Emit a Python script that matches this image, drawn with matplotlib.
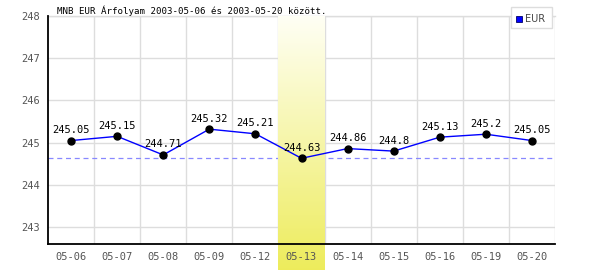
import matplotlib
matplotlib.use("Agg")
import matplotlib.pyplot as plt
import numpy as np
from matplotlib.patches import Rectangle

dates = ["05-06", "05-07", "05-08", "05-09", "05-12", "05-13", "05-14", "05-15", "05-16", "05-19", "05-20"]
values = [245.05, 245.15, 244.71, 245.32, 245.21, 244.63, 244.86, 244.8, 245.13, 245.2, 245.05]
labels = ["245.05", "245.15", "244.71", "245.32", "245.21", "244.63", "244.86", "244.8", "245.13", "245.2", "245.05"]
yticks = [243, 244, 245, 246, 247, 248]
highlight = "05-13"
title = "MNB EUR Árfolyam 2003-05-06 és 2003-05-20 között."
series_name = "EUR"

fig = plt.figure(figsize=(6, 2.7), dpi=100)
ax = fig.add_axes([48/600, 26/270, 507/600, 228/270])
ymin, ymax = 242.6, 248.0
n = len(dates)
x = np.arange(n)

# grid
for yt in yticks:
    ax.axhline(yt, color="#dddddd", lw=1, zorder=0.2)
for b in np.arange(0.5, n, 1.0):
    ax.axvline(b, color="#dddddd", lw=1, zorder=0.2)
ax.axhline(ymax, color="#dddddd", lw=1, zorder=0.2, clip_on=False)

# min dashed line (below highlight)
ax.axhline(min(values), color="#8888ff", lw=0.9, ls=(0, (4, 3)), zorder=0.3)

# highlight column with gradient, extends below axes
hi = dates.index(highlight)
ybot = ymin - 26 / (228 / (ymax - ymin))
grad = np.linspace(0, 1, 256).reshape(-1, 1)
top_c = np.array([1.0, 1.0, 0.96])
bot_c = np.array([0.93, 0.925, 0.36])
img = top_c[None, None, :] * (1 - grad[:, :, None]) + bot_c[None, None, :] * grad[:, :, None]
ax.imshow(img, extent=[hi - 0.5, hi + 0.5, ybot, ymax], origin="upper",
          aspect="auto", zorder=0.5, clip_on=False, interpolation="bilinear")
ax.set_xlim(-0.5, n - 0.5)
ax.set_ylim(ymin, ymax)

ax.plot(x, values, color="#0000ff", lw=1, zorder=2)
ax.plot(x, values, "o", color="black", ms=5, zorder=3)
for xi, v, lab in zip(x, values, labels):
    ax.annotate(lab, (xi, v), xytext=(0, 4), textcoords="offset points",
                ha="center", va="bottom", fontsize=7.5, family="DejaVu Sans Mono", color="black", zorder=4)

ax.set_xticks(x)
ax.set_xticklabels(dates)
ax.set_yticks(yticks)
ax.tick_params(length=0, labelsize=7.5, labelcolor="#555555", pad=6)
for t in ax.get_xticklabels() + ax.get_yticklabels():
    t.set_family("DejaVu Sans Mono")
for s in ["top", "right"]:
    ax.spines[s].set_visible(False)
for s in ["left", "bottom"]:
    ax.spines[s].set_color("black")
    ax.spines[s].set_linewidth(1.3)

fig.text(57/600, 1 - 14/270, title, fontsize=6.6, family="DejaVu Sans Mono", color="black", va="baseline")

# legend box
fig.patches.append(Rectangle((511/600, 1 - 28/270), 41/600, 21/270, transform=fig.transFigure,
                             facecolor="white", edgecolor="#dddddd", lw=1, zorder=5))
fig.patches.append(Rectangle((516/600, 1 - 22/270), 6/600, 6/270, transform=fig.transFigure,
                             facecolor="#0000ff", edgecolor="#000066", lw=0.6, zorder=6))
fig.text(525/600, 1 - 19/270, series_name, fontsize=7, color="#444444", va="center", zorder=7)

fig.savefig("out.png", dpi=100)
